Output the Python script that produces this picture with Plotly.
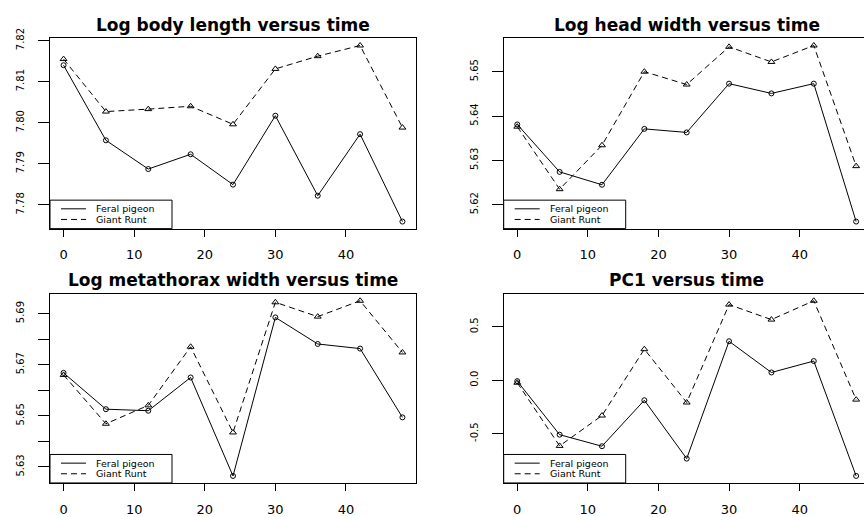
import plotly.graph_objects as go

# ---- data ----
time = [0, 6, 12, 18, 24, 30, 36, 42, 48]
series_names = ["Feral pigeon", "Giant Runt"]
titles = ["Log body length versus time", "Log head width versus time",
          "Log metathorax width versus time", "PC1 versus time"]

body_feral = [7.8140, 7.7957, 7.7887, 7.7923, 7.7849, 7.8017, 7.7822, 7.7972, 7.7759]
body_giant = [7.8155, 7.8027, 7.8033, 7.8040, 7.7996, 7.8131, 7.8162, 7.8188, 7.7988]
head_feral = [5.6381, 5.6274, 5.6245, 5.6371, 5.6363, 5.6473, 5.6451, 5.6473, 5.6162]
head_giant = [5.6376, 5.6235, 5.6334, 5.6500, 5.6471, 5.6556, 5.6522, 5.6559, 5.6287]
meta_feral = [5.6668, 5.6526, 5.6520, 5.6650, 5.6265, 5.6885, 5.6781, 5.6763, 5.6494]
meta_giant = [5.6660, 5.6469, 5.6541, 5.6770, 5.6435, 5.6944, 5.6888, 5.6950, 5.6748]
pc1_feral = [-0.009, -0.510, -0.618, -0.188, -0.734, 0.364, 0.072, 0.179, -0.896]
pc1_giant = [-0.024, -0.615, -0.331, 0.290, -0.209, 0.707, 0.567, 0.743, -0.182]

x_ticks = [0, 10, 20, 30, 40]
y_tickvals = [
    [7.78, 7.79, 7.80, 7.81, 7.82],
    [5.62, 5.63, 5.64, 5.65],
    [5.63, 5.64, 5.65, 5.66, 5.67, 5.68, 5.69],
    [-0.5, 0.0, 0.5],
]
y_ticktext = [
    ["7.78", "7.79", "7.80", "7.81", "7.82"],
    ["5.62", "5.63", "5.64", "5.65"],
    ["5.63", "", "5.65", "", "5.67", "", "5.69"],
    ["-0.5", "0.0", "0.5"],
]
feral = [body_feral, head_feral, meta_feral, pc1_feral]
giant = [body_giant, head_giant, meta_giant, pc1_giant]

# ---- layout geometry (pixels) ----
W, H = 864, 517
COLS = [(50.0, 416.0), (503.7, 869.7)]   # full plot box (right one is cut by the page edge)
ROWS = [(29.5, 226.5), (294.0, 490.0)]
DASH = "6px,4px"


def px(x):
    return x / W


def py(y):
    return 1 - y / H


def r_range(vals):
    lo, hi = min(vals), max(vals)
    e = 0.04 * (hi - lo)
    return [lo - e, hi + e]


xr = r_range(time)
pxu = (COLS[0][1] - COLS[0][0]) / (xr[1] - xr[0])

fig = go.Figure()
shapes = []
annotations = []
FONT = "DejaVu Sans"

for i in range(4):
    r, c = divmod(i, 2)
    sfx = "" if i == 0 else str(i + 1)
    x0, x1 = COLS[c]
    y0, y1 = ROWS[r]
    vis_x1 = min(x1, W)
    xrange = [xr[0], xr[0] + (vis_x1 - x0) / pxu]

    fig.add_trace(go.Scatter(
        x=time, y=feral[i], mode="lines+markers", name=series_names[0],
        line=dict(color="black", width=1),
        marker=dict(symbol="circle-open", size=5, color="black", line=dict(width=1)),
        xaxis="x" + sfx, yaxis="y" + sfx, showlegend=False, cliponaxis=False))
    fig.add_trace(go.Scatter(
        x=time, y=giant[i], mode="lines+markers", name=series_names[1],
        line=dict(color="black", width=1, dash=DASH),
        marker=dict(symbol="triangle-up-open", size=6, color="black", line=dict(width=1)),
        xaxis="x" + sfx, yaxis="y" + sfx, showlegend=False, cliponaxis=False))

    fig.layout["xaxis" + sfx] = dict(
        domain=[px(x0), px(vis_x1)], range=xrange, anchor="y" + sfx,
        tickvals=x_ticks, ticks="outside", ticklen=7, tickwidth=1, tickcolor="black",
        showline=True, linecolor="black", linewidth=1, mirror=True,
        showgrid=False, zeroline=False, ticklabelstandoff=7,
        tickfont=dict(family=FONT, size=13, color="black"))
    fig.layout["yaxis" + sfx] = dict(
        domain=[py(y1), py(y0)], range=r_range(feral[i] + giant[i]), anchor="x" + sfx,
        tickvals=y_tickvals[i], ticktext=y_ticktext[i], tickangle=-90,
        ticks="outside", ticklen=11, tickwidth=1, tickcolor="black",
        showline=True, linecolor="black", linewidth=1, mirror=(c == 0),
        showgrid=False, zeroline=False, ticklabelstandoff=10,
        tickfont=dict(family=FONT, size=10, color="black"))

    # title
    annotations.append(dict(
        text=titles[i], xref="paper", yref="paper",
        x=px((x0 + x1) / 2), y=py(y0 - 14), xanchor="center", yanchor="middle",
        showarrow=False, font=dict(family=FONT, size=17, color="black", weight="bold")))

    # legend box (bottom-left corner of the plot box)
    lx0, lx1 = x0, x0 + 122
    ly1, ly0 = y1, y1 - 29.5
    shapes.append(dict(type="rect", xref="paper", yref="paper",
                       x0=px(lx0), x1=px(lx1), y0=py(ly1), y1=py(ly0),
                       line=dict(color="black", width=1), fillcolor="white", layer="above"))
    for k, (nm, dash) in enumerate(zip(series_names, ["solid", DASH])):
        yy = ly0 + 9 + 11 * k
        shapes.append(dict(type="line", xref="paper", yref="paper",
                           x0=px(lx0 + 11), x1=px(lx0 + 36), y0=py(yy), y1=py(yy),
                           line=dict(color="black", width=1, dash=dash), layer="above"))
        annotations.append(dict(
            text=nm, xref="paper", yref="paper", x=px(lx0 + 45), y=py(yy),
            xanchor="left", yanchor="middle", showarrow=False, borderpad=0,
            font=dict(family=FONT, size=9.5, color="black")))

fig.update_layout(
    width=W, height=H, margin=dict(l=0, r=0, t=0, b=0),
    paper_bgcolor="white", plot_bgcolor="white",
    shapes=shapes, annotations=annotations, showlegend=False)

fig.write_html("out.html", config={"displayModeBar": False},
               post_script="document.body.style.margin='0px';")
